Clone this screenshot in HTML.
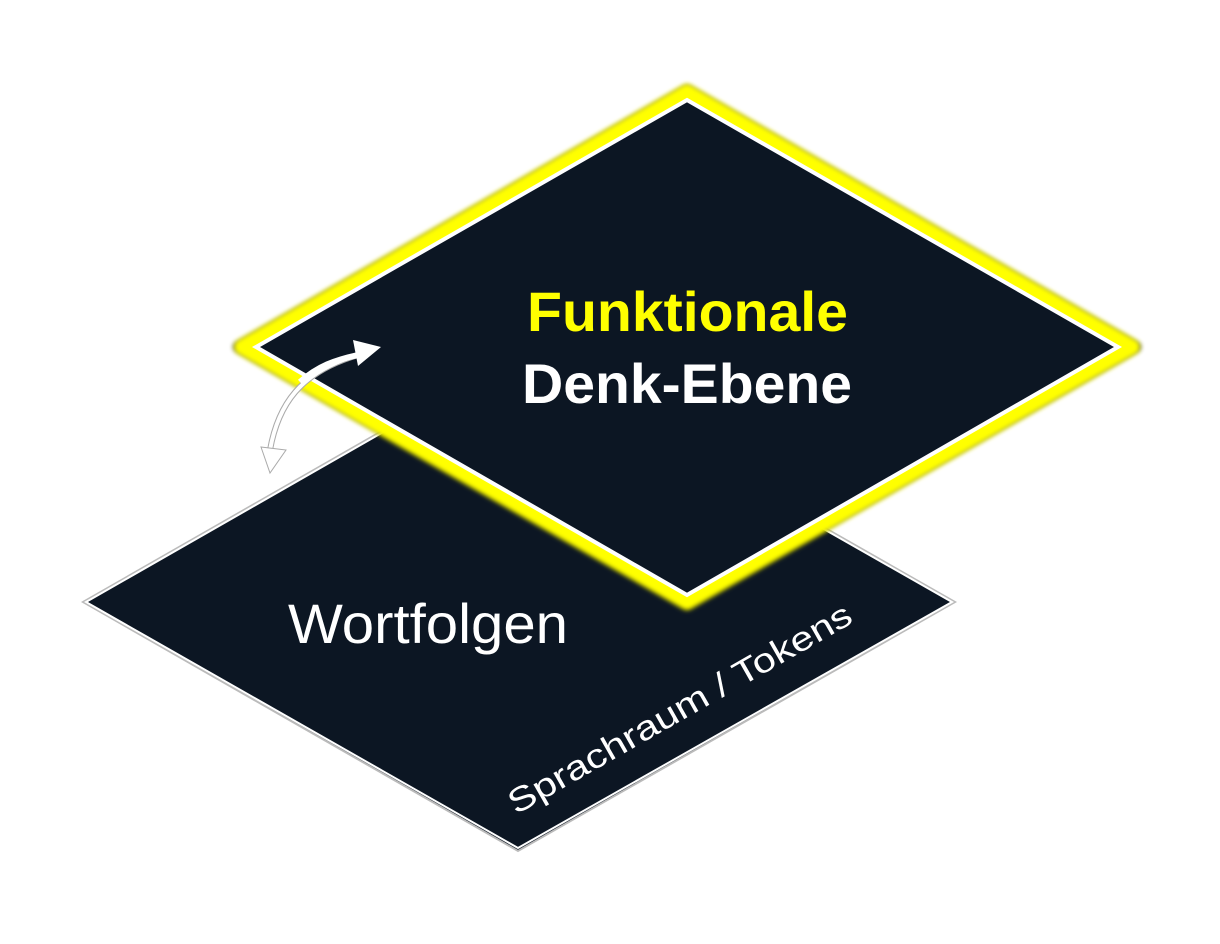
<!DOCTYPE html>
<html><head><style>html,body{margin:0;padding:0;background:#fff;}svg{display:block}</style></head>
<body>
<svg width="1220" height="944" viewBox="0 0 1220 944" xmlns="http://www.w3.org/2000/svg">
<defs>
<filter id="glow" x="-10%" y="-10%" width="120%" height="120%"><feGaussianBlur stdDeviation="2.5"/></filter>
</defs>
<polygon points="83,602 518,353 955,602 518,851" fill="#0c1623" stroke="#bbb" stroke-width="2"/>
<polygon points="86,602 518,355 952,602 518,848" fill="#0c1623" stroke="#fff" stroke-width="2"/>
<text x="288" y="643" font-family="Liberation Sans, sans-serif" font-size="56" fill="#fff" textLength="280" lengthAdjust="spacingAndGlyphs">Wortfolgen</text>
<text transform="translate(516,815) rotate(-29.7)" font-family="Liberation Sans, sans-serif" font-size="34" fill="#fff" textLength="390" lengthAdjust="spacingAndGlyphs">Sprachraum / Tokens</text>
<polygon points="687,90 1136,347 687,604 238,347" fill="#000" stroke="#000" stroke-width="10" stroke-linejoin="round" opacity="0.7" filter="url(#glow)"/>
<polygon points="687,92 1132,347 687,602 242,347" fill="#ffff00" stroke="#ffff00" stroke-width="16" stroke-linejoin="round" filter="url(#glow)"/>
<polygon points="687,100 1118,347 687,595 256,347" fill="#0c1623" stroke="#fff" stroke-width="4" stroke-linejoin="miter"/>
<text x="527" y="331" font-family="Liberation Sans, sans-serif" font-weight="bold" font-size="56" fill="#ffff00" textLength="321" lengthAdjust="spacingAndGlyphs">Funktionale</text>
<text x="522" y="403" font-family="Liberation Sans, sans-serif" font-weight="bold" font-size="56" fill="#fff" textLength="330" lengthAdjust="spacingAndGlyphs">Denk-Ebene</text>
<path d="M270,450 C278,405 300,372 358,355" fill="none" stroke="#aaa" stroke-width="6"/>
<path d="M270,450 C278,405 300,372 358,355" fill="none" stroke="#fff" stroke-width="4"/>
<path d="M300,382 C318,366 335,360 358,355" fill="none" stroke="#fff" stroke-width="6"/>
<polygon points="353,340 381,347 358,366" fill="#fff"/>
<polygon points="261,447 286,450 270,473" fill="#fff" stroke="#aaa" stroke-width="1"/>
</svg>
</body></html>
